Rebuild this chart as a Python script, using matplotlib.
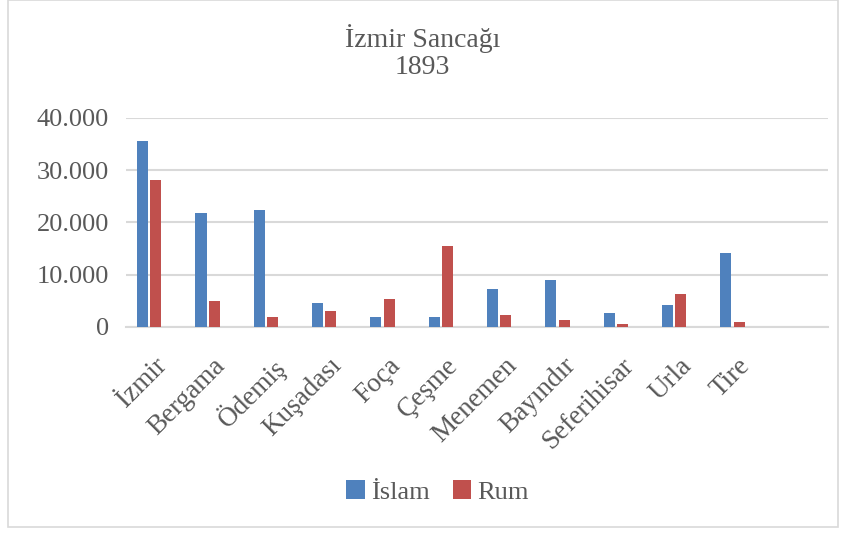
import matplotlib
matplotlib.use("Agg")
import matplotlib.pyplot as plt
import matplotlib.transforms as mtransforms
from matplotlib.patches import Rectangle
from matplotlib.ticker import FuncFormatter
import numpy as np

# veriler
categories = ["İzmir", "Bergama", "Ödemiş", "Kuşadası", "Foça", "Çeşme",
              "Menemen", "Bayındır", "Seferihisar", "Urla", "Tire", ""]
islam = [35570, 21720, 22300, 4540, 1860, 1800, 7160, 9000, 2620, 4150, 14180, 0]
rum = [28050, 4860, 1920, 2950, 5370, 15400, 2240, 1410, 640, 6390, 1030, 0]

plt.rcParams["font.family"] = ["Liberation Serif", "DejaVu Serif"]
txt = "#595959"
grid_c = "#D9D9D9"

fig = plt.figure(figsize=(8.45, 5.35), dpi=100)
ax = fig.add_axes([0.149, 0.389, 0.831, 0.3906])

x = np.arange(len(categories))
w = 0.19
ax.bar(x - 0.113, islam, w, color="#4F81BD", label="İslam", zorder=3)
ax.bar(x + 0.113, rum, w, color="#C0504D", label="Rum", zorder=3)

ax.set_ylim(0, 40000)
ax.set_xlim(-0.4, 11.64)
ax.set_yticks([0, 10000, 20000, 30000, 40000])
ax.yaxis.set_major_formatter(FuncFormatter(lambda v, p: f"{int(v):,}".replace(",", ".")))
ax.grid(axis="y", color=grid_c, linewidth=1.5, zorder=0)
for s in ["top", "right", "left"]:
    ax.spines[s].set_visible(False)
ax.spines["bottom"].set_color(grid_c)
ax.spines["bottom"].set_linewidth(1.5)
ax.tick_params(axis="both", length=0, colors=txt)
ax.tick_params(axis="y", labelsize=19, pad=12)
ax.set_xticks(x)
ax.set_xticklabels(categories, rotation=45, ha="right", rotation_mode="anchor",
                   fontsize=19.5, color=txt)
ax.tick_params(axis="x", pad=19)
shift = mtransforms.ScaledTranslation(5 / 100, 0, fig.dpi_scale_trans)
for lbl in ax.get_xticklabels():
    lbl.set_transform(lbl.get_transform() + shift)

fig.text(0.5, 0.902, "İzmir Sancağı\n1893", ha="center", va="center",
         fontsize=20, color=txt, linespacing=1.1)

leg = fig.legend(loc="center", bbox_to_anchor=(0.518, 0.08), ncol=2, frameon=False,
                 fontsize=19, handlelength=0.7, handleheight=0.7, handletextpad=0.25,
                 columnspacing=0.85)
for t in leg.get_texts():
    t.set_color(txt)

fig.patches.append(Rectangle((8 / 845, 8 / 535), 830 / 845, 527 / 535, transform=fig.transFigure,
                             fill=False, edgecolor=grid_c, linewidth=1.2))

fig.savefig("out.png", dpi=100)
